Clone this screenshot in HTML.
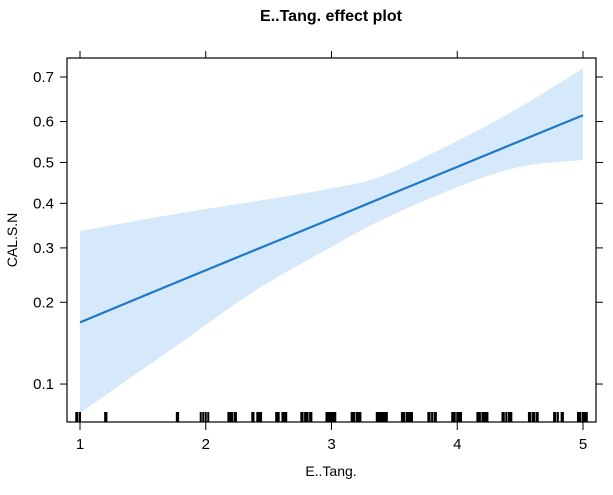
<!DOCTYPE html>
<html><head><meta charset="utf-8"><style>
body{margin:0;background:#fff;}
svg text{font-family:"Liberation Sans",Arial,sans-serif;}
</style></head><body>
<svg id="chart" width="613" height="490" xmlns="http://www.w3.org/2000/svg">
<text x="331" y="21" text-anchor="middle" font-size="16" font-weight="bold">E..Tang. effect plot</text>
<g id="plot"></g>
<text x="331" y="476" text-anchor="middle" font-size="14">E..Tang.</text>
<text transform="translate(17,240) rotate(-90)" text-anchor="middle" font-size="14">CAL.S.N</text>
</svg>
<script>
const xVals=[1,1.8,2.4,3,3.4,4,4.5,5];
const fitVals=[0.17,0.2365,0.2965,0.364,0.413,0.489,0.553,0.615];
const upperVals=[0.336,0.377,0.405,0.436,0.466,0.553,0.634,0.718];
const lowerVals=[0.077,0.143,0.22,0.302,0.361,0.439,0.489,0.506];
const xTicks=[1,2,3,4,5];
const yTicks=[0.1,0.2,0.3,0.4,0.5,0.6,0.7];
const rugVals=[0.97,0.98,1.0,1.2,1.21,1.77,1.78,1.96,1.98,2.0,2.02,2.18,2.19,2.2,2.21,2.23,2.24,2.37,2.38,2.41,2.42,2.43,2.44,
2.56,2.57,2.58,2.61,2.62,2.63,2.64,2.76,2.77,2.79,2.8,2.81,2.83,2.84,2.96,2.97,2.98,2.99,3.0,3.01,3.02,3.03,
3.16,3.17,3.18,3.2,3.21,3.22,3.23,3.36,3.37,3.38,3.39,3.4,3.41,3.42,3.43,3.44,3.56,3.57,3.58,3.6,3.61,3.62,3.63,3.64,
3.77,3.78,3.8,3.82,3.83,3.96,3.97,3.98,4.0,4.01,4.02,4.03,4.16,4.17,4.18,4.2,4.21,4.22,4.23,4.24,
4.36,4.37,4.39,4.41,4.42,4.43,4.57,4.58,4.6,4.61,4.63,4.64,4.77,4.78,4.8,4.83,4.84,4.96,4.97,4.98,5.0,5.01,5.02,5.03];
const L=67,R=596,T=58,B=422;
const sx=v=>80+(v-1)*125.75;
const logit=p=>Math.log(p/(1-p));
const sy=p=>77+(logit(0.7)-logit(p))*100.85;
const NS="http://www.w3.org/2000/svg";
const g=document.getElementById('plot');
function mk(t,a){const e=document.createElementNS(NS,t);for(const k in a)e.setAttribute(k,a[k]);g.appendChild(e);return e;}
function segs(pts){let d="";for(let i=0;i<pts.length-1;i++){const p0=pts[Math.max(0,i-1)],p1=pts[i],p2=pts[i+1],p3=pts[Math.min(pts.length-1,i+2)];
d+=" C"+(p1[0]+(p2[0]-p0[0])/6)+","+(p1[1]+(p2[1]-p0[1])/6)+" "+(p2[0]-(p3[0]-p1[0])/6)+","+(p2[1]-(p3[1]-p1[1])/6)+" "+p2[0]+","+p2[1];}return d;}
const up=xVals.map((x,i)=>[sx(x),sy(upperVals[i])]);
const lo=xVals.map((x,i)=>[sx(x),sy(lowerVals[i])]).reverse();
const dBand="M"+up[0][0]+","+up[0][1]+segs(up)+" L"+lo[0][0]+","+lo[0][1]+segs(lo)+" Z";
const band=mk('path',{d:dBand,fill:'#d6e9fb',stroke:'none'});


const fp=xVals.map((x,i)=>sx(x)+","+sy(fitVals[i]));
const fl=mk('polyline',{points:fp.join(" "),fill:'none',stroke:'#1b78c8','stroke-width':2.2,'stroke-linejoin':'round'});


rugVals.forEach(v=>{const r=mk('line',{x1:sx(v),x2:sx(v),y1:412,y2:422,stroke:'#000','stroke-width':2});

});
const fr=mk('rect',{x:L,y:T,width:R-L,height:B-T,fill:'none',stroke:'#000','stroke-width':1.2});


xTicks.forEach(v=>{const x=sx(v);
const t1=mk('line',{x1:x,x2:x,y1:B,y2:B+8,stroke:'#000'});


const t2=mk('line',{x1:x,x2:x,y1:T,y2:T-7,stroke:'#000'});


const tx=mk('text',{x:x,y:449,'text-anchor':'middle','font-size':15});tx.textContent=v;

});
yTicks.forEach(v=>{const y=sy(v);
const t1=mk('line',{x1:L,x2:L-7,y1:y,y2:y,stroke:'#000'});


const t2=mk('line',{x1:R,x2:R+7,y1:y,y2:y,stroke:'#000'});


const tx=mk('text',{x:54,y:y+5,'text-anchor':'end','font-size':15});tx.textContent=v;

});
</script>
</body></html>
